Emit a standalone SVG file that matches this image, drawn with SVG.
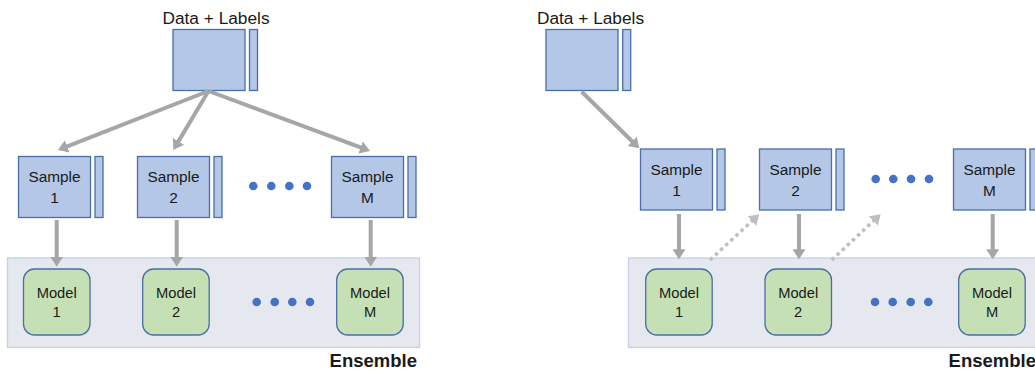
<svg xmlns="http://www.w3.org/2000/svg" width="1035" height="369" viewBox="0 0 1035 369">
<style>
.bx{fill:#b4c7e7;stroke:#4a6ea8;stroke-width:1.3}
.md{fill:#c5e0b4;stroke:#4a6ea8;stroke-width:1.3}
.ens{fill:#e5e8ee;stroke:#c6d0e3;stroke-width:1.3}
.dot{fill:#4472c4}
.t{font-family:"Liberation Sans",Arial,sans-serif;fill:#1a1a1a;text-anchor:middle}
.ts{font-size:15.4px}
.tm{font-size:14.7px}
.td{font-size:17.3px}
.te{font-size:18.5px;font-weight:bold;text-anchor:end}
.ar{stroke:#a6a6a6;stroke-width:4;fill:none}
.ad{stroke:#bfbfbf;stroke-width:3.5;fill:none;stroke-dasharray:3.5 3.5}
</style>
<defs>
<marker id="ah" markerUnits="userSpaceOnUse" markerWidth="12" markerHeight="14" refX="2" refY="6.5" orient="auto" viewBox="0 0 12 13">
<path d="M0,0 L10,6.5 L0,13 z" fill="#a6a6a6"/>
</marker>
<marker id="ahd" markerUnits="userSpaceOnUse" markerWidth="12" markerHeight="14" refX="2" refY="6.5" orient="auto" viewBox="0 0 12 13">
<path d="M0,0 L10,6.5 L0,13 z" fill="#bfbfbf"/>
</marker>
</defs>

<!-- LEFT PANEL -->
<g id="ensemble-left">
<rect class="ens" x="7.5" y="258" width="412" height="89.5"/>
<text class="t te" x="417" y="367">Ensemble</text>
</g>
<g id="data-left">
<text class="t td" x="216" y="24">Data + Labels</text>
<rect class="bx" x="173" y="29.5" width="72" height="61"/>
<rect class="bx" x="249.5" y="29.5" width="8" height="61"/>
</g>
<g id="sample1-left">
<rect class="bx" x="18.5" y="156.5" width="72" height="61"/>
<rect class="bx" x="95" y="156.5" width="8" height="61"/>
<text class="t ts" x="54.5" y="182">Sample</text>
<text class="t ts" x="54.5" y="203">1</text>
</g>
<g id="sample2-left">
<rect class="bx" x="137.5" y="156.5" width="72" height="61"/>
<rect class="bx" x="214" y="156.5" width="8" height="61"/>
<text class="t ts" x="173.5" y="182">Sample</text>
<text class="t ts" x="173.5" y="203">2</text>
</g>
<g id="sampleM-left">
<rect class="bx" x="331.5" y="156.5" width="72" height="61"/>
<rect class="bx" x="408" y="156.5" width="8" height="61"/>
<text class="t ts" x="367.5" y="182">Sample</text>
<text class="t ts" x="367.5" y="203">M</text>
</g>
<g id="dots-samples-left">
<circle class="dot" cx="253.3" cy="186" r="4.3"/>
<circle class="dot" cx="271.3" cy="186" r="4.3"/>
<circle class="dot" cx="289.3" cy="186" r="4.3"/>
<circle class="dot" cx="307" cy="186" r="4.3"/>
</g>
<g id="model1-left">
<rect class="md" x="23.5" y="269" width="66.5" height="66" rx="11"/>
<text class="t tm" x="56.7" y="298">Model</text>
<text class="t tm" x="56.7" y="317">1</text>
</g>
<g id="model2-left">
<rect class="md" x="142.7" y="269" width="66.5" height="66" rx="11"/>
<text class="t tm" x="176" y="298">Model</text>
<text class="t tm" x="176" y="317">2</text>
</g>
<g id="modelM-left">
<rect class="md" x="336.7" y="269" width="66.5" height="66" rx="11"/>
<text class="t tm" x="370" y="298">Model</text>
<text class="t tm" x="370" y="317">M</text>
</g>
<g id="dots-models-left">
<circle class="dot" cx="256.7" cy="302" r="4.3"/>
<circle class="dot" cx="274.7" cy="302" r="4.3"/>
<circle class="dot" cx="292.3" cy="302" r="4.3"/>
<circle class="dot" cx="310" cy="302" r="4.3"/>
</g>

<!-- RIGHT PANEL -->
<g id="ensemble-right">
<rect class="ens" x="628.5" y="258" width="420" height="89.5"/>
<text class="t te" x="1036" y="367">Ensemble</text>
</g>
<g id="data-right">
<text class="t td" x="590.5" y="24">Data + Labels</text>
<rect class="bx" x="546" y="29.5" width="72" height="61"/>
<rect class="bx" x="622.7" y="29.5" width="8" height="61"/>
</g>
<g id="sample1-right">
<rect class="bx" x="640.5" y="149" width="72" height="61"/>
<rect class="bx" x="717" y="149" width="8" height="61"/>
<text class="t ts" x="676.5" y="175">Sample</text>
<text class="t ts" x="676.5" y="196">1</text>
</g>
<g id="sample2-right">
<rect class="bx" x="759.5" y="149" width="72" height="61"/>
<rect class="bx" x="836" y="149" width="8" height="61"/>
<text class="t ts" x="795.5" y="175">Sample</text>
<text class="t ts" x="795.5" y="196">2</text>
</g>
<g id="sampleM-right">
<rect class="bx" x="953.5" y="149" width="72" height="61"/>
<rect class="bx" x="1030" y="149" width="8" height="61"/>
<text class="t ts" x="989.5" y="175">Sample</text>
<text class="t ts" x="989.5" y="196">M</text>
</g>
<g id="dots-samples-right">
<circle class="dot" cx="875.7" cy="179" r="4.3"/>
<circle class="dot" cx="893.3" cy="179" r="4.3"/>
<circle class="dot" cx="911" cy="179" r="4.3"/>
<circle class="dot" cx="929" cy="179" r="4.3"/>
</g>
<g id="model1-right">
<rect class="md" x="645.7" y="269" width="66.5" height="66" rx="11"/>
<text class="t tm" x="679" y="298">Model</text>
<text class="t tm" x="679" y="317">1</text>
</g>
<g id="model2-right">
<rect class="md" x="765" y="269" width="66.5" height="66" rx="11"/>
<text class="t tm" x="798.2" y="298">Model</text>
<text class="t tm" x="798.2" y="317">2</text>
</g>
<g id="modelM-right">
<rect class="md" x="958.7" y="269" width="66.5" height="66" rx="11"/>
<text class="t tm" x="992" y="298">Model</text>
<text class="t tm" x="992" y="317">M</text>
</g>
<g id="dots-models-right">
<circle class="dot" cx="875" cy="302" r="4.3"/>
<circle class="dot" cx="892.7" cy="302" r="4.3"/>
<circle class="dot" cx="910.7" cy="302" r="4.3"/>
<circle class="dot" cx="928.3" cy="302" r="4.3"/>
</g>

<!-- CONNECTORS -->
<g id="connectors">
<line class="ar" x1="208.5" y1="91" x2="65.4" y2="147.1" marker-end="url(#ah)"/>
<line class="ar" x1="208.5" y1="91" x2="177.4" y2="143.1" marker-end="url(#ah)"/>
<line class="ar" x1="208.5" y1="91" x2="362.5" y2="148.2" marker-end="url(#ah)"/>
<line class="ar" x1="56.7" y1="220" x2="56.7" y2="258.7" marker-end="url(#ah)"/>
<line class="ar" x1="176.7" y1="220" x2="176.7" y2="258.7" marker-end="url(#ah)"/>
<line class="ar" x1="370.7" y1="220" x2="370.7" y2="258.7" marker-end="url(#ah)"/>
<line class="ar" x1="581.7" y1="91.7" x2="633.6" y2="142.7" marker-end="url(#ah)"/>
<line class="ar" x1="679" y1="214" x2="679" y2="251.3" marker-end="url(#ah)"/>
<line class="ar" x1="799" y1="214" x2="799" y2="251.3" marker-end="url(#ah)"/>
<line class="ar" x1="992.7" y1="214" x2="992.7" y2="251.3" marker-end="url(#ah)"/>
<line class="ad" x1="710" y1="260" x2="753.4" y2="219.7" marker-end="url(#ahd)"/>
<line class="ad" x1="831.7" y1="260" x2="874.8" y2="219.7" marker-end="url(#ahd)"/>
</g>
</svg>
